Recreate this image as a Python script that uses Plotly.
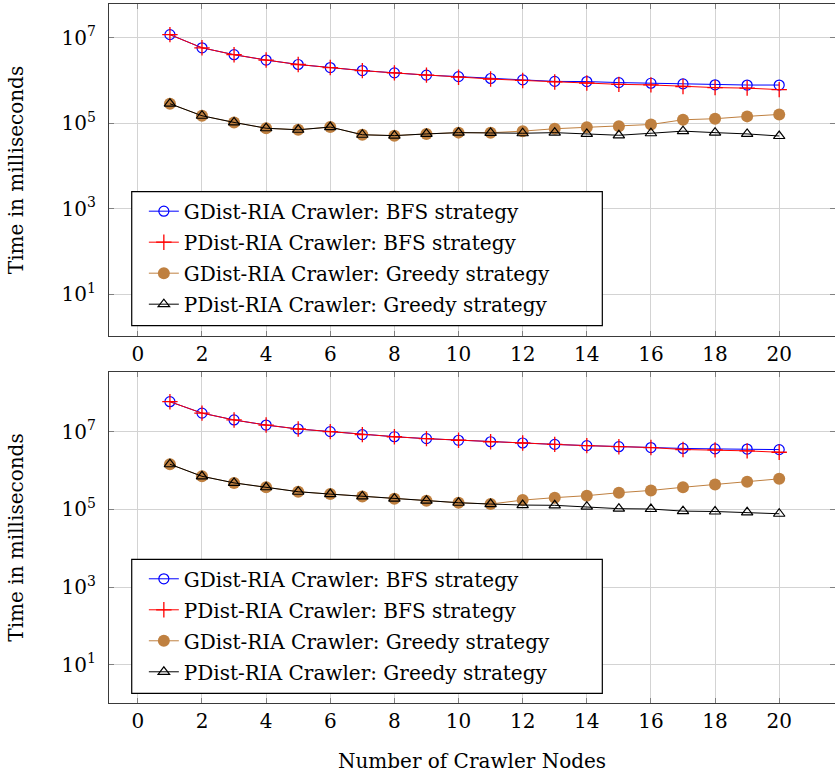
import plotly.graph_objects as go

nodes = list(range(1, 21))
x_ticks = list(range(0, 21, 2))
y_tickvals = [1e1, 1e3, 1e5, 1e7]
y_ticktext = ["10<sup>1</sup>", "10<sup>3</sup>", "10<sup>5</sup>", "10<sup>7</sup>"]

series_names = [
    "GDist-RIA Crawler: BFS strategy",
    "PDist-RIA Crawler: BFS strategy",
    "GDist-RIA Crawler: Greedy strategy",
    "PDist-RIA Crawler: Greedy strategy",
]

# Top panel (ms)
top_gdist_bfs = [1.18e7, 5.8e6, 4.0e6, 3.0e6, 2.36e6, 2.0e6, 1.7e6, 1.5e6, 1.33e6, 1.23e6,
                 1.11e6, 1.03e6, 9.5e5, 9.4e5, 8.9e5, 8.6e5, 8.3e5, 7.9e5, 7.8e5, 7.8e5]
top_pdist_bfs = [1.18e7, 5.8e6, 4.0e6, 3.0e6, 2.36e6, 2.0e6, 1.7e6, 1.5e6, 1.33e6, 1.19e6,
                 1.08e6, 1.0e6, 9.2e5, 8.7e5, 8.1e5, 7.85e5, 7.2e5, 6.8e5, 6.6e5, 6.1e5]
top_gdist_greedy = [2.85e5, 1.49e5, 1.04e5, 7.6e4, 7.0e4, 8.1e4, 5.35e4, 5.1e4, 5.6e4, 6.0e4,
                    5.96e4, 6.5e4, 7.4e4, 8.05e4, 8.5e4, 9.3e4, 1.2e5, 1.27e5, 1.44e5, 1.6e5]
top_pdist_greedy = [2.85e5, 1.49e5, 1.04e5, 7.6e4, 7.0e4, 8.1e4, 5.35e4, 5.1e4, 5.6e4, 6.0e4,
                    5.9e4, 5.8e4, 6.0e4, 5.6e4, 5.2e4, 5.8e4, 6.5e4, 6.0e4, 5.6e4, 5.0e4]

# Bottom panel (ms)
bot_gdist_bfs = [5.9e7, 3.0e7, 2.0e7, 1.48e7, 1.17e7, 1.0e7, 8.4e6, 7.4e6, 6.6e6, 6.0e6,
                 5.5e6, 5.1e6, 4.7e6, 4.37e6, 4.1e6, 3.9e6, 3.7e6, 3.6e6, 3.57e6, 3.45e6]
bot_pdist_bfs = [5.9e7, 3.0e7, 2.0e7, 1.48e7, 1.17e7, 1.0e7, 8.4e6, 7.4e6, 6.6e6, 6.0e6,
                 5.5e6, 5.1e6, 4.7e6, 4.37e6, 4.1e6, 3.9e6, 3.47e6, 3.4e6, 3.2e6, 2.95e6]
bot_gdist_greedy = [1.45e6, 7.1e5, 4.8e5, 3.7e5, 2.84e5, 2.47e5, 2.15e5, 1.88e5, 1.67e5, 1.48e5,
                    1.37e5, 1.73e5, 2.0e5, 2.25e5, 2.68e5, 3.07e5, 3.7e5, 4.37e5, 5.1e5, 6.1e5]
bot_pdist_greedy = [1.45e6, 7.1e5, 4.8e5, 3.7e5, 2.84e5, 2.47e5, 2.15e5, 1.88e5, 1.67e5, 1.48e5,
                    1.37e5, 1.29e5, 1.27e5, 1.17e5, 1.04e5, 1.02e5, 9.0e4, 8.8e4, 8.4e4, 7.7e4]

FONT = "DejaVu Serif"
FS = 20
BROWN = "#BF8040"

styles = [
    dict(line=dict(color="blue", width=1),
         marker=dict(symbol="circle-open", size=10, color="blue", line=dict(width=1.2, color="blue"))),
    dict(line=dict(color="red", width=1),
         marker=dict(symbol="cross-thin", size=11, color="red", line=dict(width=1.3, color="red"))),
    dict(line=dict(color=BROWN, width=1),
         marker=dict(symbol="circle", size=12, color=BROWN, line=dict(width=0))),
    dict(line=dict(color="black", width=1),
         marker=dict(symbol="triangle-up-open", size=10, color="black", line=dict(width=1.2, color="black"))),
]

fig = go.Figure()
panels = [
    ("x", "y", "legend", [top_gdist_bfs, top_pdist_bfs, top_gdist_greedy, top_pdist_greedy]),
    ("x2", "y2", "legend2", [bot_gdist_bfs, bot_pdist_bfs, bot_gdist_greedy, bot_pdist_greedy]),
]
for xa, ya, lg, data in panels:
    for i, (name, vals) in enumerate(zip(series_names, data)):
        fig.add_trace(go.Scatter(
            x=nodes, y=vals, name=name, mode="lines+markers",
            xaxis=xa, yaxis=ya, legend=lg, legendgroup=lg + str(i),
            **styles[i]))

axis_common = dict(
    showgrid=True, gridcolor="#d3d3d3", gridwidth=1,
    showline=True, linecolor="#3a3a3a", linewidth=1.2, mirror="ticks",
    ticks="inside", ticklen=5, tickcolor="#808080", tickwidth=1,
    tickfont=dict(family=FONT, size=FS, color="black"),
    zeroline=False, automargin=False,
)

xcommon = dict(axis_common, range=[-0.9, 21.74], tickmode="array", tickvals=x_ticks)
ycommon = dict(axis_common, type="log", tickmode="array", tickvals=y_tickvals, ticktext=y_ticktext,
               ticklabelstandoff=8,
               title=dict(text="Time in milliseconds", font=dict(family=FONT, size=FS, color="black"),
                          standoff=32))

legend_common = dict(
    bgcolor="rgba(0,0,0,0)", borderwidth=0,
    font=dict(family=FONT, size=FS, color="black"),
    xanchor="left", yanchor="top", x=0.048, tracegroupgap=2,
    itemsizing="trace",
)

# legend frames (decoration)
frame_x = [0.0313, 0.6795]
frames_y = [(0.5398, 0.7315), (0.0139, 0.2056)]
shapes = [dict(type="rect", xref="paper", yref="paper", x0=frame_x[0], x1=frame_x[1],
               y0=y0, y1=y1, line=dict(color="black", width=1.2), fillcolor="white", layer="above")
          for (y0, y1) in frames_y]

fig.update_layout(
    width=835, height=776,
    margin=dict(l=109, r=0, t=4, b=73),
    plot_bgcolor="white", paper_bgcolor="white",
    xaxis=dict(xcommon, anchor="y", domain=[0, 1]),
    yaxis=dict(ycommon, anchor="x", domain=[0.525, 1], range=[0.017, 7.789]),
    xaxis2=dict(xcommon, anchor="y2", domain=[0, 1],
                title=dict(text="Number of Crawler Nodes", font=dict(family=FONT, size=FS, color="black"),
                           standoff=21)),
    yaxis2=dict(ycommon, anchor="x2", domain=[0, 0.4735], range=[0.015, 8.535]),
    legend=dict(legend_common, y=0.7315),
    legend2=dict(legend_common, y=0.2056),
    shapes=shapes,
    showlegend=True,
)

fig.write_html("out.html", config={"displayModeBar": False},
               post_script="document.body.style.margin='0px';")
